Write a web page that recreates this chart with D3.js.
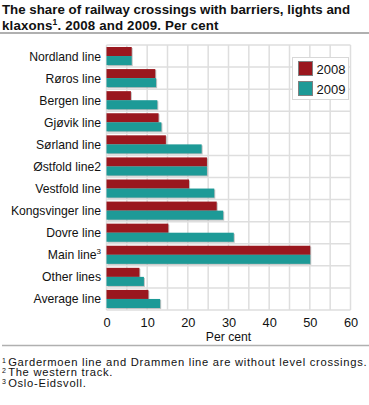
<!DOCTYPE html>
<html><head><meta charset="utf-8">
<script src="https://cdn.jsdelivr.net/npm/d3@7"></script>
<style>body{margin:0;background:#fff}svg{display:block;font-family:"Liberation Sans",Arial,sans-serif}</style>
</head><body>
<script>
const categories = ["Nordland line","Røros line","Bergen line","Gjøvik line","Sørland line","Østfold line2","Vestfold line","Kongsvinger line","Dovre line","Main line","Other lines","Average line"];
const catSup = ["","","","","","","","","","3","",""];
const series = ["2008","2009"];
const values2008 = [6.2,12.0,6.0,12.8,14.6,24.7,20.3,27.1,15.2,50.1,8.1,10.3];
const values2009 = [6.2,12.2,12.5,13.5,23.4,24.7,26.5,28.7,31.3,50.1,9.2,13.2];
const xTicks = [0,10,20,30,40,50,60];
const colors = ["#9a171e","#1d9a97"];
const titleLines = ["The share of railway crossings with barriers, lights and","klaxons","1",". 2008 and 2009. Per cent"];
const footnotes = [["1","Gardermoen line and Drammen line are without level crossings."],["2","The western track."],["3","Oslo-Eidsvoll."]];

const FF='"Liberation Sans",Arial,sans-serif';
const W=369,H=405;
const svg=d3.select("body").append("svg").attr("width",W).attr("height",H).attr("font-family",FF);
const m={l:106.5,r:350.5,t:45,b:310};
const x=d3.scaleLinear().domain([0,60]).range([m.l,m.r]);
const y=d3.scaleBand().domain(categories).range([m.t,m.b]);
const inner=d3.scaleBand().domain(series).range([0,y.bandwidth()]).paddingOuter(0.22).paddingInner(0);

// title
const t=svg.append("g").attr("font-weight","bold").attr("font-size","13.3px").attr("fill","#111");
t.append("text").attr("x",2).attr("y",14).text(titleLines[0]);
const t2=t.append("text").attr("x",2).attr("y",29.5).attr("letter-spacing","0.15px");
t2.append("tspan").text(titleLines[1]);
t2.append("tspan").attr("font-size","8.5px").attr("dy",-5).text(titleLines[2]);
t2.append("tspan").attr("dy",5).text(titleLines[3]);
svg.append("line").attr("x1",0).attr("x2",369).attr("y1",33).attr("y2",33).attr("stroke","#b0b0b0").attr("stroke-width",2);

// grid
const grid=svg.append("g");
d3.range(0,61,5).forEach(v=>grid.append("line").attr("x1",x(v)).attr("x2",x(v)).attr("y1",m.t).attr("y2",m.b).attr("stroke","#dedede").attr("stroke-width",1.5));
categories.forEach((c,i)=>grid.append("line").attr("x1",m.l).attr("x2",m.r).attr("y1",y(c)).attr("y2",y(c)).attr("stroke","#dedede").attr("stroke-width",1.5));
grid.append("line").attr("x1",m.l).attr("x2",m.r).attr("y1",m.b).attr("y2",m.b).attr("stroke","#dedede").attr("stroke-width",1.5);

// bars
const data=categories.map((c,i)=>({c,v:[values2008[i],values2009[i]]}));
const bg=svg.append("g");
data.forEach(d=>{
  series.forEach((s,j)=>{
    const yy=y(d.c)+inner(s), hh=inner.bandwidth();
    bg.append("rect").attr("x",x(0)+1).attr("y",yy+1).attr("width",x(d.v[j])-x(0)).attr("height",hh).attr("fill","#a8a8a8").attr("opacity",0.7);
  });
  series.forEach((s,j)=>{
    const yy=y(d.c)+inner(s), hh=inner.bandwidth();
    bg.append("rect").attr("x",x(0)).attr("y",yy).attr("width",x(d.v[j])-x(0)).attr("height",hh).attr("fill",colors[j]);
  });
});

// category labels
const cl=svg.append("g").attr("font-size","12.2px").attr("fill","#111").attr("text-anchor","end");
categories.forEach((c,i)=>{
  const tx=cl.append("text").attr("x",101).attr("y",y(c)+y.bandwidth()/2+4.5);
  tx.append("tspan").text(c);
  if(catSup[i]) tx.append("tspan").attr("font-size","8px").attr("dy",-5).text(catSup[i]);
});

// x axis
const ax=svg.append("g").attr("transform",`translate(0,${m.b})`).call(d3.axisBottom(x).tickValues(xTicks).tickSize(0).tickPadding(8));
ax.attr("font-family",FF);
ax.select(".domain").remove();
ax.selectAll("text").attr("font-size","12.8px").attr("fill","#111");
svg.append("text").attr("x",(m.l+m.r)/2).attr("y",341).attr("text-anchor","middle").attr("font-size","12.2px").attr("fill","#111").text("Per cent");
svg.append("line").attr("x1",2).attr("x2",369).attr("y1",345.5).attr("y2",345.5).attr("stroke","#b0b0b0").attr("stroke-width",1.5);

// legend
const lg=svg.append("g");
lg.append("rect").attr("x",292.5).attr("y",57.5).attr("width",56).attr("height",42).attr("fill","#fff").attr("stroke","#d8d8d8");
series.forEach((s,j)=>{
  lg.append("rect").attr("x",298.5).attr("y",61.5+j*20).attr("width",14).attr("height",14).attr("fill",colors[j]).attr("stroke","#808080");
  lg.append("text").attr("x",316.5).attr("y",73.5+j*20).attr("font-size","13px").attr("fill","#111").text(s);
});

// footnotes
const fn=svg.append("g").attr("fill","#111");
footnotes.forEach((f,i)=>{
  const tx=fn.append("text").attr("x",2).attr("y",365.5+i*10.6).attr("font-size","11.2px").attr("letter-spacing","0.72px");
  tx.append("tspan").attr("font-size","7px").attr("dy",-3).text(f[0]);
  tx.append("tspan").attr("dy",3).attr("dx",1.5).text(f[1]);
});
</script>
</body></html>
